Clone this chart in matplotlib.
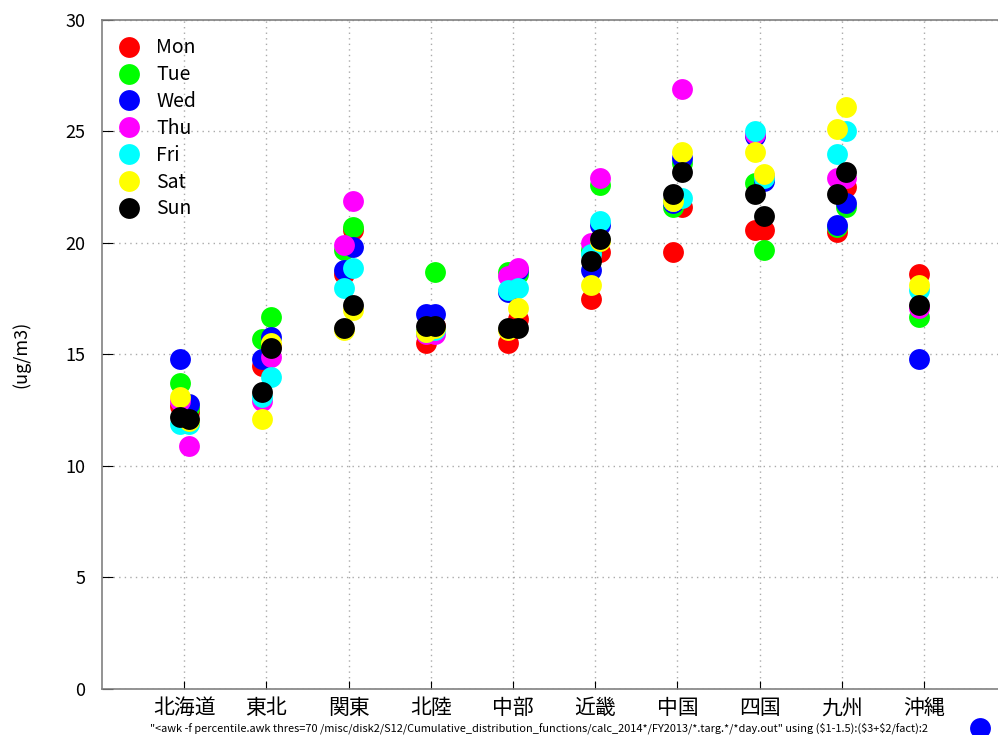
import numpy as np
import matplotlib
matplotlib.use("Agg")
import matplotlib.pyplot as plt
from matplotlib.lines import Line2D

plt.rcParams['font.family'] = ['Noto Sans CJK JP', 'DejaVu Sans']

regions = ['北海道', '東北', '関東', '北陸', '中部', '近畿', '中国', '四国', '九州', '沖縄']
days = ['Mon', 'Tue', 'Wed', 'Thu', 'Fri', 'Sat', 'Sun']
colors = ['#ff0000', '#00ff00', '#0000ff', '#ff00ff', '#00ffff', '#ffff00', '#000000']

# left column of each region (all ten regions)
left_vals = {
    'Mon': [12.7, 14.5, 18.6, 15.5, 15.5, 17.5, 19.6, 20.6, 20.5, 18.6],
    'Tue': [13.7, 15.7, 19.7, 16.0, 18.7, 19.7, 21.6, 22.7, 20.7, 16.7],
    'Wed': [14.8, 14.8, 18.8, 16.8, 17.8, 18.8, 21.8, 24.8, 20.8, 14.8],
    'Thu': [12.9, 12.9, 19.9, 15.9, 18.5, 20.0, 21.9, 24.9, 22.9, 17.1],
    'Fri': [11.9, 13.1, 18.0, 16.0, 17.9, 19.5, 21.9, 25.0, 24.0, 17.9],
    'Sat': [13.1, 12.1, 16.1, 16.0, 16.1, 18.1, 21.9, 24.1, 25.1, 18.1],
    'Sun': [12.2, 13.3, 16.2, 16.3, 16.2, 19.2, 22.2, 22.2, 22.2, 17.2],
}
# right column (no value for 沖縄)
right_vals = {
    'Mon': [12.4, 15.4, 20.6, 16.3, 16.6, 19.6, 21.6, 20.6, 22.5, np.nan],
    'Tue': [12.6, 16.7, 20.7, 18.7, 18.6, 22.6, 23.6, 19.7, 21.6, np.nan],
    'Wed': [12.8, 15.8, 19.8, 16.8, 18.8, 20.8, 23.8, 22.8, 21.8, np.nan],
    'Thu': [10.9, 14.9, 21.9, 15.9, 18.9, 22.9, 26.9, 23.0, 22.9, np.nan],
    'Fri': [11.9, 14.0, 18.9, 16.1, 18.0, 21.0, 22.0, 22.9, 25.0, np.nan],
    'Sat': [12.0, 15.5, 17.0, 16.2, 17.1, 20.1, 24.1, 23.1, 26.1, np.nan],
    'Sun': [12.1, 15.3, 17.2, 16.3, 16.2, 20.2, 23.2, 21.2, 23.2, np.nan],
}

cmd_label = ('"<awk -f percentile.awk thres=70 /misc/disk2/S12/Cumulative_distribution_functions/'
             'calc_2014*/FY2013/*.targ.*/*day.out" using ($1-1.5):($3+$2/fact):2')

fig = plt.figure(figsize=(9.98, 7.35), dpi=100)
ax = fig.add_axes([0.1022, 0.0626, 0.906, 0.9102])

x = np.arange(1, len(regions) + 1)
off = 0.055
for day, c in zip(days, colors):
    ax.plot(x - off, left_vals[day], 'o', color=c, ms=15, mec='none', label=day, clip_on=False)
    ax.plot(x + off, right_vals[day], 'o', color=c, ms=15, mec='none', clip_on=False)

ax.set_xlim(0, 11)
ax.set_ylim(0, 30)
ax.set_xticks(x)
ax.set_xticklabels(regions, fontsize=15)
ax.set_yticks(np.arange(0, 31, 5))
ax.tick_params(axis='y', labelsize=13, direction='in', length=8, pad=12)
ax.tick_params(axis='x', direction='in', length=6, pad=6)
ax.grid(True, color='#aaaaaa', linestyle=(0, (1, 3)), linewidth=1.0)
ax.set_axisbelow(True)
for s in ax.spines.values():
    s.set_color('#808080')
    s.set_linewidth(1.2)
ax.set_ylabel('(ug/m3)', fontsize=13, labelpad=25)

ax.legend(loc='upper left', frameon=False, fontsize=14, handlelength=1.0,
          handletextpad=0.9, labelspacing=0.3, borderaxespad=0.5,
          bbox_to_anchor=(0.0, 1.0))

fig.legend(handles=[Line2D([], [], marker='o', color='#0000ff', ls='none', ms=15, mec='none')],
           labels=[cmd_label], loc='lower right', bbox_to_anchor=(0.997, -0.012),
           frameon=False, fontsize=7.9, markerfirst=False, handlelength=1.0,
           handletextpad=4.2)

fig.savefig('out.png', dpi=100)
